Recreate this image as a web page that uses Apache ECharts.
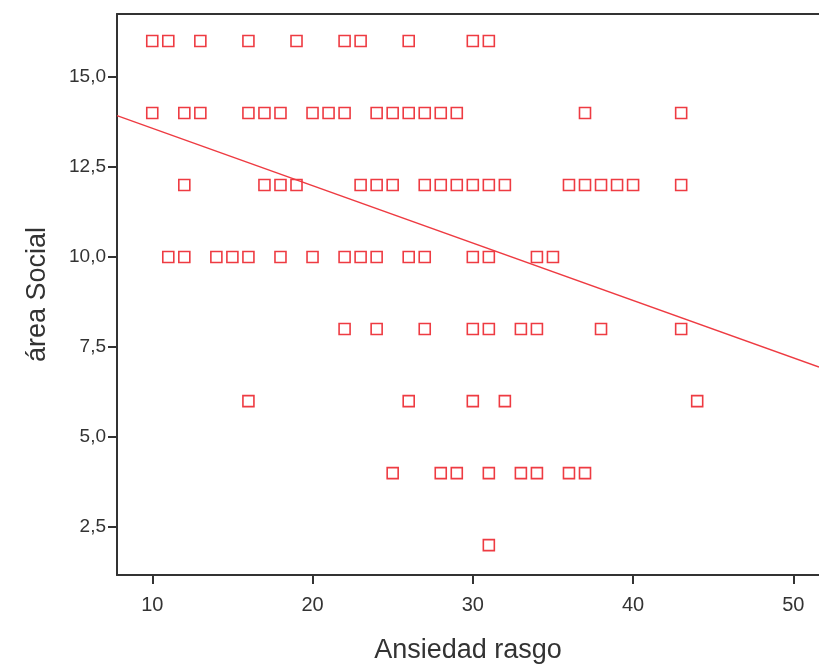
<!DOCTYPE html>
<html>
<head>
<meta charset="utf-8">
<script src="https://cdn.jsdelivr.net/npm/echarts@6/dist/echarts.min.js"></script>
<style>
  html, body { margin: 0; padding: 0; background: #ffffff; }
  #chart { width: 819px; height: 666px; }
</style>
</head>
<body>
<div id="chart"></div>
<script>
// Ansiedad rasgo (x) grouped by área Social score (y)
const rowY16 = [10, 11, 13, 16, 19, 22, 23, 26, 30, 31];
const rowY14 = [10, 12, 13, 16, 17, 18, 20, 21, 22, 24, 25, 26, 27, 28, 29, 37, 43];
const rowY12 = [12, 17, 18, 19, 23, 24, 25, 27, 28, 29, 30, 31, 32, 36, 37, 38, 39, 40, 43];
const rowY10 = [11, 12, 14, 15, 16, 18, 20, 22, 23, 24, 26, 27, 30, 31, 34, 35];
const rowY8 = [22, 24, 27, 30, 31, 33, 34, 38, 43];
const rowY6 = [16, 26, 30, 32, 44];
const rowY4 = [25, 28, 29, 31, 33, 34, 36, 37];
const rowY2 = [31];

// linear fit
const fitIntercept = 15.17;
const fitSlope = -0.1594;

const xTicks = [10, 20, 30, 40, 50];
const yTicks = [2.5, 5, 7.5, 10, 12.5, 15];

const xMin = 7.8, xMax = 51.6;
const yMin = 1.17, yMax = 16.75;

const rows = [[16, rowY16], [14, rowY14], [12, rowY12], [10, rowY10], [8, rowY8], [6, rowY6], [4, rowY4], [2, rowY2]];
const points = [];
rows.forEach(([y, xs]) => xs.forEach(x => points.push([x, y])));

const fitLine = [xMin, xMax].map(x => [x, fitIntercept + fitSlope * x]);

const red = '#ee3b42';
const axisColor = '#333333';
const fontFamily = '"Liberation Sans", Arial, sans-serif';

const chart = echarts.init(document.getElementById('chart'));
chart.setOption({
  animation: false,
  backgroundColor: '#ffffff',
  grid: { left: 117, right: 0, top: 14, bottom: 91, outerBoundsMode: 'none', containLabel: false },
  xAxis: [{
    type: 'value',
    min: xMin,
    max: xMax,
    splitLine: { show: false },
    axisLine: { show: true, lineStyle: { color: axisColor, width: 2 } },
    axisTick: { show: true, length: 9, customValues: xTicks, lineStyle: { color: axisColor, width: 2 } },
    axisLabel: {
      customValues: xTicks,
      margin: 20,
      color: axisColor,
      fontSize: 20,
      fontFamily: fontFamily
    },
    name: 'Ansiedad rasgo',
    nameLocation: 'middle',
    nameGap: 62,
    nameTextStyle: { fontSize: 27, color: axisColor, fontFamily: fontFamily }
  }, {
    type: 'value',
    position: 'top',
    min: xMin,
    max: xMax,
    splitLine: { show: false },
    axisLine: { show: true, lineStyle: { color: axisColor, width: 2 } },
    axisTick: { show: false },
    axisLabel: { show: false }
  }],
  yAxis: {
    type: 'value',
    min: yMin,
    max: yMax,
    splitLine: { show: false },
    axisLine: { show: true, lineStyle: { color: axisColor, width: 2 } },
    axisTick: { show: true, length: 9, customValues: yTicks, lineStyle: { color: axisColor, width: 2 } },
    axisLabel: {
      customValues: yTicks,
      margin: 11,
      color: axisColor,
      fontSize: 19,
      fontFamily: fontFamily,
      formatter: v => v.toFixed(1).replace('.', ',')
    },
    name: 'área Social',
    nameLocation: 'middle',
    nameGap: 66,
    nameTextStyle: { fontSize: 27, color: axisColor, fontFamily: fontFamily }
  },
  series: [{
    type: 'line',
    xAxisIndex: 0,
    data: fitLine,
    showSymbol: false,
    lineStyle: { color: red, width: 1.3 },
    silent: true
  }, {
    type: 'scatter',
    xAxisIndex: 0,
    data: points,
    symbol: 'rect',
    symbolSize: 11,
    itemStyle: { color: '#ffffff', borderColor: red, borderWidth: 1.6, opacity: 1 }
  }]
});
</script>
</body>
</html>
